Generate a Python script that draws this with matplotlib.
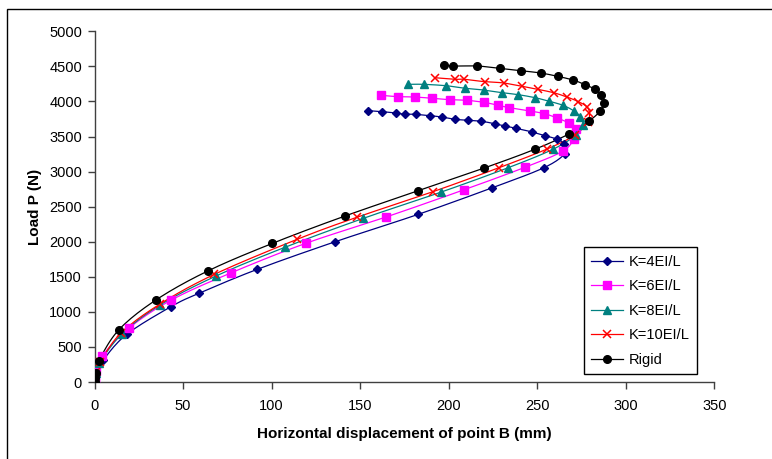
import numpy as np
import matplotlib
matplotlib.use("Agg")
import matplotlib.pyplot as plt
from matplotlib.lines import Line2D
from matplotlib.patches import Rectangle

plt.rcParams['font.family'] = ['Liberation Sans', 'DejaVu Sans']

# ---- data (horizontal displacement mm, load N) ----
k4_x = [0, 0.3, 1.0, 5.0, 18.2, 43.2, 59.0, 92.0, 135.9, 182.9, 224.7, 253.8, 265.6, 265.3,
        260.9, 254.3, 247.2, 238.0, 231.9, 226.1, 218.4, 211.0, 203.7, 196.2, 189.4, 181.6,
        175.1, 170.3, 162.3, 154.7]
k4_y = [0, 50, 120, 314, 680, 1074, 1265, 1607, 2000, 2391, 2770, 3055, 3255, 3393,
        3464, 3512, 3564, 3617, 3650, 3683, 3717, 3731, 3745, 3778, 3797, 3817,
        3818, 3835, 3854, 3868]

k6_x = [0, 0.3, 0.9, 4.4, 19.3, 43.4, 77.3, 119.3, 164.4, 208.8, 243.1, 264.3, 270.7,
        271.9, 267.7, 261.3, 254.1, 245.9, 234.2, 228.1, 219.7, 210.1, 200.5, 190.8,
        180.9, 171.5, 162.0]
k6_y = [0, 70, 150, 371, 766, 1169, 1558, 1977, 2350, 2742, 3061, 3289, 3464,
        3611, 3693, 3764, 3825, 3864, 3911, 3945, 3988, 4016, 4025, 4045,
        4063, 4068, 4087]

k8_x = [0, 0.4, 1.0, 2.7, 15.4, 37.0, 68.6, 107.5, 151.9, 195.9, 233.6, 258.9, 271.9,
        275.8, 274.3, 270.5, 264.5, 256.9, 248.9, 239.4, 230.1, 219.7, 209.5, 198.6,
        185.8, 177.1]
k8_y = [0, 60, 130, 267, 684, 1098, 1511, 1920, 2334, 2709, 3055, 3318, 3521,
        3664, 3782, 3868, 3945, 4002, 4053, 4096, 4125, 4163, 4187, 4224,
        4244, 4244]

k10_x = [0, 0.4, 1.0, 3.0, 15.0, 37.0, 67.7, 114.4, 148.1, 191.1, 228.4, 255.6, 271.3,
         278.4, 279.5, 278.0, 273.3, 266.8, 259.2, 250.2, 241.5, 231.4, 220.5, 208.8,
         203.7, 192.4]
k10_y = [0, 70, 140, 280, 699, 1112, 1535, 2034, 2348, 2713, 3055, 3322, 3521,
         3711, 3831, 3925, 3996, 4063, 4125, 4173, 4216, 4263, 4281, 4316,
         4316, 4338]

rig_x = [0, 0.3, 0.8, 2.4, 13.8, 34.9, 64.0, 100.5, 141.5, 182.9, 220.1, 248.7, 268.2,
         279.5, 285.6, 287.9, 286.3, 282.6, 277.1, 270.3, 261.5, 251.9, 240.6, 228.9,
         216.1, 202.4, 197.1]
rig_y = [0, 60, 125, 299, 746, 1173, 1583, 1977, 2367, 2727, 3051, 3318, 3540,
         3725, 3864, 3982, 4092, 4173, 4239, 4305, 4358, 4406, 4438, 4472,
         4505, 4505, 4525]

labels = ['K=4EI/L', 'K=6EI/L', 'K=8EI/L', 'K=10EI/L', 'Rigid']
colors = ['#000080', '#FF00FF', '#008080', '#FF0000', '#000000']
markers = ['D', 's', '^', 'x', 'o']
msizes = [4.5, 5.5, 6, 6, 5.5]
series = [(k4_x, k4_y), (k6_x, k6_y), (k8_x, k8_y), (k10_x, k10_y), (rig_x, rig_y)]


def smooth(xs, ys, n=12):
    # Bezier smoothing between data points (like Excel smoothed lines)
    p = np.column_stack([xs, ys]).astype(float)
    sc = np.array([1.77, 0.07014])
    q = p * sc
    out = [q[0]]
    for i in range(len(q) - 1):
        p0 = q[i - 1] if i > 0 else q[i]
        p1 = q[i]
        p2 = q[i + 1]
        p3 = q[i + 2] if i + 2 < len(q) else q[i + 1]
        d = np.linalg.norm(p2 - p1)
        t1 = (p2 - p0) / 6.0
        t2 = (p3 - p1) / 6.0
        for t in (t1, t2):
            nt = np.linalg.norm(t)
            if nt > d * 0.5 and nt > 0:
                t *= d * 0.5 / nt
        c1 = p1 + t1
        c2 = p2 - t2
        for s in np.linspace(0, 1, n)[1:]:
            b = ((1 - s) ** 3) * p1 + 3 * ((1 - s) ** 2) * s * c1 + 3 * (1 - s) * s * s * c2 + s ** 3 * p2
            out.append(b)
    out = np.array(out) / sc
    return out[:, 0], out[:, 1]


fig = plt.figure(figsize=(7.72, 4.59), dpi=100)
ax = fig.add_axes([94.5 / 772, (459 - 382) / 459, (714.3 - 94.5) / 772, (382 - 31.3) / 459])

for (xs, ys), c, m, ms in zip(series, colors, markers, msizes):
    sx, sy = smooth(xs, ys)
    ax.plot(sx, sy, color=c, lw=0.9, zorder=2)
    if m == 'x':
        ax.plot(xs, ys, ls='none', marker=m, color=c, ms=ms, mew=1.1, zorder=3)
    else:
        ax.plot(xs, ys, ls='none', marker=m, color=c, mec=c, mfc=c, ms=ms, zorder=3)

ax.set_xlim(0, 350)
ax.set_ylim(0, 5000)
ax.set_xticks(np.arange(0, 351, 50))
ax.set_yticks(np.arange(0, 5001, 500))
for s in ['top', 'right']:
    ax.spines[s].set_visible(False)
for s in ['left', 'bottom']:
    ax.spines[s].set_color('#404040')
    ax.spines[s].set_linewidth(1.0)
ax.tick_params(direction='out', length=5, width=1.0, color='#404040', labelsize=10.5)
ax.tick_params(axis='x', pad=7)
ax.tick_params(axis='y', pad=4)

ax.set_xlabel('Horizontal displacement of point B (mm)', fontsize=11, fontweight='bold', labelpad=10)
ax.set_ylabel('Load P (N)', fontsize=11, fontweight='bold', labelpad=5)

handles = [Line2D([0], [0], color=c, lw=0.9, marker=m, ms=ms, mew=1.1 if m == 'x' else 1.0,
                  mfc=c, mec=c) for c, m, ms in zip(colors, markers, msizes)]
leg = ax.legend(handles, labels, loc='lower left',
                bbox_to_anchor=((584 - 94.5) / 619.8, (382 - 374) / 350.7),
                frameon=True, fancybox=False, framealpha=1, edgecolor='black', fontsize=10.5,
                handlelength=2.2, handletextpad=0.35, labelspacing=0.72, borderpad=0.5,
                borderaxespad=0)
leg.get_frame().set_linewidth(1.0)

fig.patches.append(Rectangle((6.5 / 772, -0.1), 1.2, (459 - 9) / 459 + 0.1, transform=fig.transFigure,
                             fill=False, edgecolor='black', lw=1.0))

fig.savefig('out.png', dpi=100)
